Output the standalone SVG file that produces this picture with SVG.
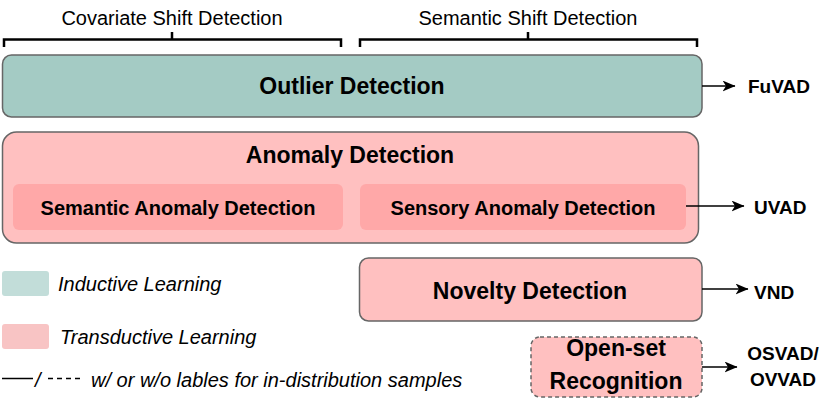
<svg xmlns="http://www.w3.org/2000/svg" width="830" height="402" viewBox="0 0 830 402">
<defs>
<marker id="arr" viewBox="0 0 13 11" refX="12.5" refY="5.5" markerWidth="13" markerHeight="11" markerUnits="userSpaceOnUse" orient="auto">
<path d="M0,0 L13,5.5 L0,11 L3.5,5.5 Z" fill="#000"/>
</marker>
<style>
text{font-family:"Liberation Sans",Arial,sans-serif;fill:#000}
.b{font-weight:bold}
.c{text-anchor:middle}
.i{font-style:italic;font-size:20px}
.box{stroke:#666;stroke-width:1.5}
.br{fill:none;stroke:#000;stroke-width:2.5}
.con{fill:none;stroke:#000;stroke-width:1.7;marker-end:url(#arr)}
</style>
</defs>
<rect width="830" height="402" fill="#fff"/>
<g id="covariate">
<text x="172" y="24.5" class="c" font-size="20">Covariate Shift Detection</text>
<path class="br" d="M4,47 V39.5 H341 V47 M172,39.5 V32"/>
</g>
<g id="semantic">
<text x="528" y="24.5" class="c" font-size="20">Semantic Shift Detection</text>
<path class="br" d="M360,47 V39.5 H697 V47 M528,39.5 V32"/>
</g>
<g id="outlier">
<rect class="box" x="2.5" y="55" width="699.5" height="62" rx="9" fill="#a4cbc4"/>
<text x="352" y="94" class="b c" font-size="23">Outlier Detection</text>
</g>
<g id="anomaly">
<rect class="box" x="2.5" y="132" width="696" height="111" rx="14" fill="#ffc0c0"/>
<text x="350" y="163" class="b c" font-size="23">Anomaly Detection</text>
</g>
<g id="semantic-ad">
<rect x="13" y="184" width="330" height="46" rx="6" fill="#ffa8a8"/>
<text x="178" y="215" class="b c" font-size="20">Semantic Anomaly Detection</text>
</g>
<g id="sensory-ad">
<rect x="360" y="184" width="326" height="46" rx="6" fill="#ffa8a8"/>
<text x="523" y="215" class="b c" font-size="20">Sensory Anomaly Detection</text>
</g>
<g id="novelty">
<rect class="box" x="359.5" y="258" width="342.5" height="63" rx="9" fill="#ffc0c0"/>
<text x="530" y="298.5" class="b c" font-size="23">Novelty Detection</text>
</g>
<g id="openset">
<rect class="box" x="531" y="337" width="171" height="60" rx="9" fill="#ffc0c0" stroke-dasharray="4 3"/>
<text x="616" y="356" class="b c" font-size="23">Open-set</text>
<text x="616" y="389" class="b c" font-size="23">Recognition</text>
</g>
<g id="fuvad"><text x="748" y="93" class="b" font-size="19">FuVAD</text></g>
<g id="uvad"><text x="754" y="214" class="b" font-size="19">UVAD</text></g>
<g id="vnd"><text x="754" y="299" class="b" font-size="19">VND</text></g>
<g id="osvad">
<text x="783" y="360" class="b c" font-size="19">OSVAD/</text>
<text x="783" y="386" class="b c" font-size="19">OVVAD</text>
</g>
<g id="connectors">
<path class="con" d="M702,86 H735"/>
<path class="con" d="M686,206 H744"/>
<path class="con" d="M702,289 H748"/>
<path class="con" d="M702,367 H737"/>
</g>
<g id="legend">
<rect x="2" y="271" width="47" height="25" rx="3" fill="#c2ddd9"/>
<text x="58" y="290.5" class="i">Inductive Learning</text>
<rect x="2" y="324" width="47" height="25" rx="3" fill="#f8c4c4"/>
<text x="60" y="343.5" class="i">Transductive Learning</text>
<path d="M2,378.5 H33" stroke="#000" stroke-width="1.5"/>
<text x="35" y="387" class="i">/</text>
<path d="M48,378.5 H81" stroke="#000" stroke-width="1.5" stroke-dasharray="5 4"/>
<text x="91" y="387" class="i">w/ or w/o lables for in-distribution samples</text>
</g>
</svg>
